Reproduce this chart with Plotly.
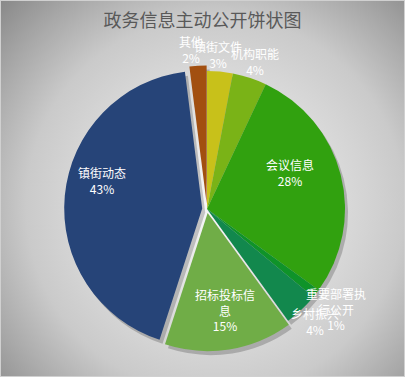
import plotly.graph_objects as go
import urllib.parse

# ---- data ----
categories = ["镇街文件", "机构职能", "会议信息", "重要部署执行公开", "乡村振兴", "招标投标信息", "镇街动态", "其他"]
values = [3, 4, 28, 1, 4, 15, 43, 2]
colors = ["#c8c11a", "#7ab317", "#31a10f", "#0f9329", "#12884d", "#70ad47", "#264478", "#a24f10"]
pulls = [0, 0, 0, 0, 0, 0.03, 0.035, 0.04]
title_text = "政务信息主动公开饼状图"

# label centre positions in pixels (x, y from top) of the reference
label_pos = [(218, 54), (255, 61), (290, 172), (336, 309), (315, 321), (225, 310), (102, 181), (191, 50)]

W, H = 405, 377
FONT = "Noto Sans CJK SC, Microsoft YaHei, sans-serif"

# pie geometry
cx, cy, r = 207, 209, 138
maxp = max(pulls)
half = r * (1 + maxp)
dom_x = [(cx - half) / W, (cx + half) / W]
dom_y = [(H - cy - half) / H, (H - cy + half) / H]

total = sum(values)

def wrap(s, n=5):
    return "<br>".join(s[i:i + n] for i in range(0, len(s), n))

fig = go.Figure()

# soft shadow layer
sx, sy = 3, 4
fig.add_trace(go.Pie(
    labels=categories, values=values, sort=False, direction="clockwise", rotation=0,
    pull=pulls, textinfo="none", hoverinfo="skip", showlegend=False,
    marker=dict(colors=["rgba(0,0,0,0.2)"] * len(values), line=dict(width=0)),
    domain=dict(x=[dom_x[0] + sx / W, dom_x[1] + sx / W], y=[dom_y[0] - sy / H, dom_y[1] - sy / H]),
))

fig.add_trace(go.Pie(
    labels=categories, values=values, sort=False, direction="clockwise", rotation=0,
    pull=pulls, textinfo="none", showlegend=False,
    marker=dict(colors=colors, line=dict(width=0)),
    domain=dict(x=dom_x, y=dom_y),
))

for name, v, (px, py) in zip(categories, values, label_pos):
    pct = round(v / total * 100)
    fig.add_annotation(
        x=px / W, y=1 - py / H, xref="paper", yref="paper",
        text=f"{wrap(name)}<br>{pct}%", showarrow=False,
        xanchor="center", yanchor="middle",
        font=dict(family=FONT, size=12, color="#ffffff"),
    )

svg = f'''<svg xmlns="http://www.w3.org/2000/svg" width="{W}" height="{H}">
<defs><radialGradient id="g" gradientUnits="userSpaceOnUse" cx="215" cy="205" r="300">
<stop offset="0" stop-color="#f8f8f8"/>
<stop offset="0.5" stop-color="#d4d4d4"/>
<stop offset="0.63" stop-color="#cacaca"/>
<stop offset="0.82" stop-color="#a8a8a8"/>
<stop offset="1" stop-color="#868686"/>
</radialGradient></defs>
<rect x="0" y="0" width="{W}" height="{H}" fill="url(#g)"/>
<rect x="0.5" y="0.5" width="{W-1}" height="{H-1}" fill="none" stroke="#d0d0d0" stroke-width="1"/>
</svg>'''
src = "data:image/svg+xml;charset=utf-8," + urllib.parse.quote(svg)

fig.update_layout(
    width=W, height=H,
    margin=dict(l=0, r=0, t=0, b=0),
    paper_bgcolor="#bbbbbb", plot_bgcolor="rgba(0,0,0,0)",
    images=[dict(source=src, xref="paper", yref="paper", x=0, y=1, sizex=1, sizey=1,
                 xanchor="left", yanchor="top", sizing="stretch", layer="below")],
    title=dict(text=title_text, x=0.5, xanchor="center", y=1 - 21 / H, yanchor="middle",
               font=dict(family=FONT, size=18, color="#595959")),
)

fig.write_html("out.html", config={"displayModeBar": False},
               post_script="document.body.style.margin='0';document.body.style.overflow='hidden';")
